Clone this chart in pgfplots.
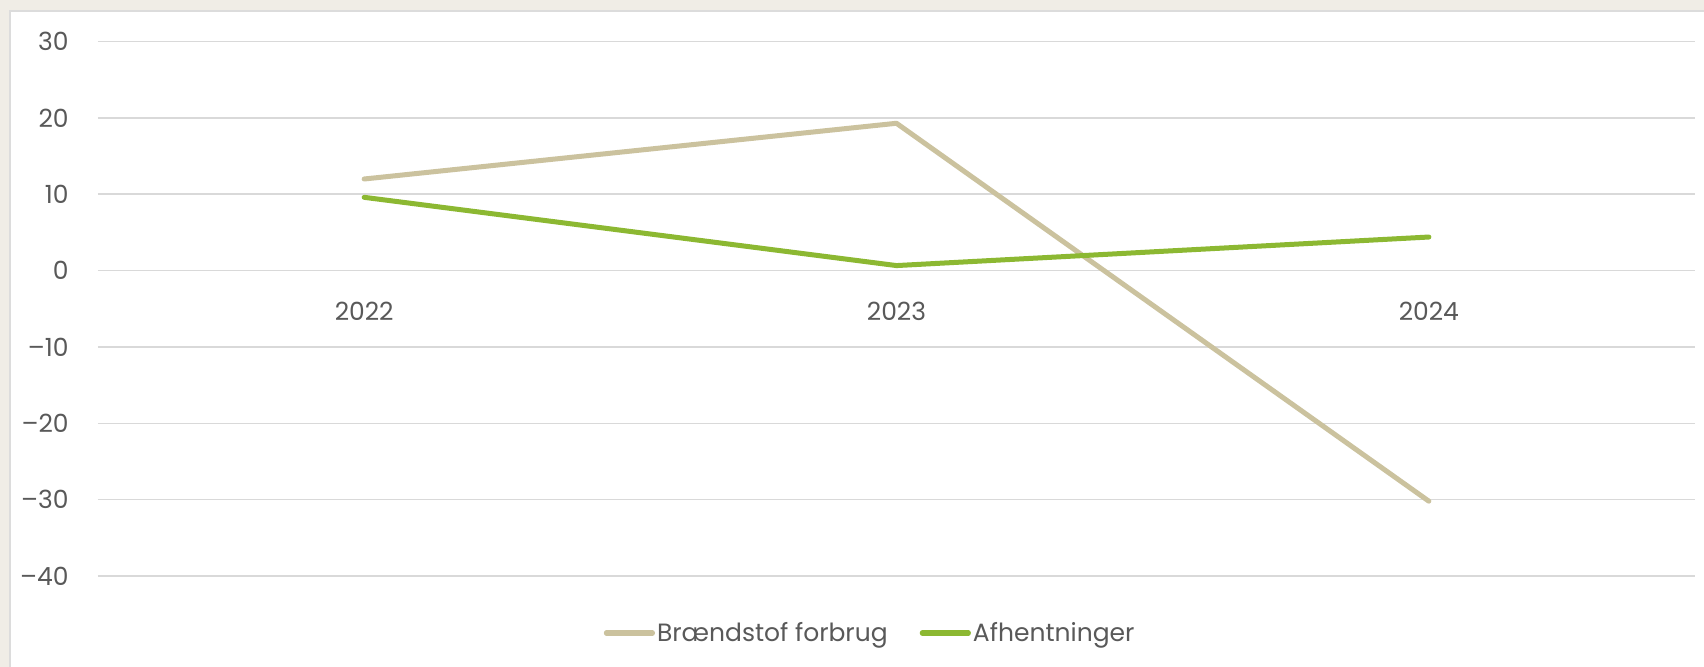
\documentclass[border=0pt]{standalone}
\usepackage{pgfplots}
\pgfplotsset{compat=1.18}
\usepackage{fontspec}
\setmainfont{Poppins}
\definecolor{bgbeige}{HTML}{F0EDE6}
\definecolor{panelborder}{HTML}{DCDCDC}
\definecolor{gridgray}{HTML}{D9D9D9}
\definecolor{txtgray}{HTML}{595959}
\definecolor{tan}{HTML}{CBC29E}
\definecolor{lgreen}{HTML}{8CB832}
\begin{document}
\begin{tikzpicture}
\path[use as bounding box] (0,0) rectangle (852pt,333.5pt);
\fill[bgbeige] (0,0) rectangle (852pt,333.5pt);
\draw[panelborder, line width=0.8pt, fill=white] (5pt,-2pt) rectangle (856pt,328pt);
\begin{axis}[
  at={(49pt,45.5pt)}, anchor=south west,
  scale only axis, width=798.5pt, height=267.2pt,
  xmin=-0.5, xmax=2.5, ymin=-40, ymax=30,
  axis x line*=middle, axis y line*=left,
  axis line style={draw=none},
  major tick length=0pt,
  xtick={0,1,2}, xticklabels={2022,2023,2024},
  ytick={-40,-30,-20,-10,0,10,20,30},
  yticklabels={–40,–30,–20,–10,0,10,20,30},
  ymajorgrids, grid style={gridgray, line width=0.8pt},
  ticklabel style={font=\fontsize{12.5}{14}\selectfont, text=txtgray},
  xticklabel style={anchor=north, inner sep=0pt, yshift=-15.5pt},
  yticklabel style={anchor=east, inner sep=0pt, xshift=-14.5pt},
  clip=false,
  legend columns=2,
  legend style={at={(0.4835,-0.1067)}, anchor=center, draw=none, fill=none,
    font=\fontsize{12.5}{14}\selectfont, text=txtgray,
    nodes={inner sep=1pt},
    /tikz/every even column/.append style={column sep=15pt}},
  legend image code/.code={\draw[#1, line width=2.6pt, line cap=round] (0pt,0pt) -- (23pt,0pt);},
]
\addplot[tan, line width=2.5pt, line cap=round, line join=round] coordinates {(0,12.0) (1,19.3) (2,-30.2)};
\addlegendentry{Brændstof forbrug}
\addplot[lgreen, line width=2.5pt, line cap=round, line join=round] coordinates {(0,9.6) (1,0.66) (2,4.4)};
\addlegendentry{Afhentninger}
\end{axis}
\end{tikzpicture}
\end{document}
